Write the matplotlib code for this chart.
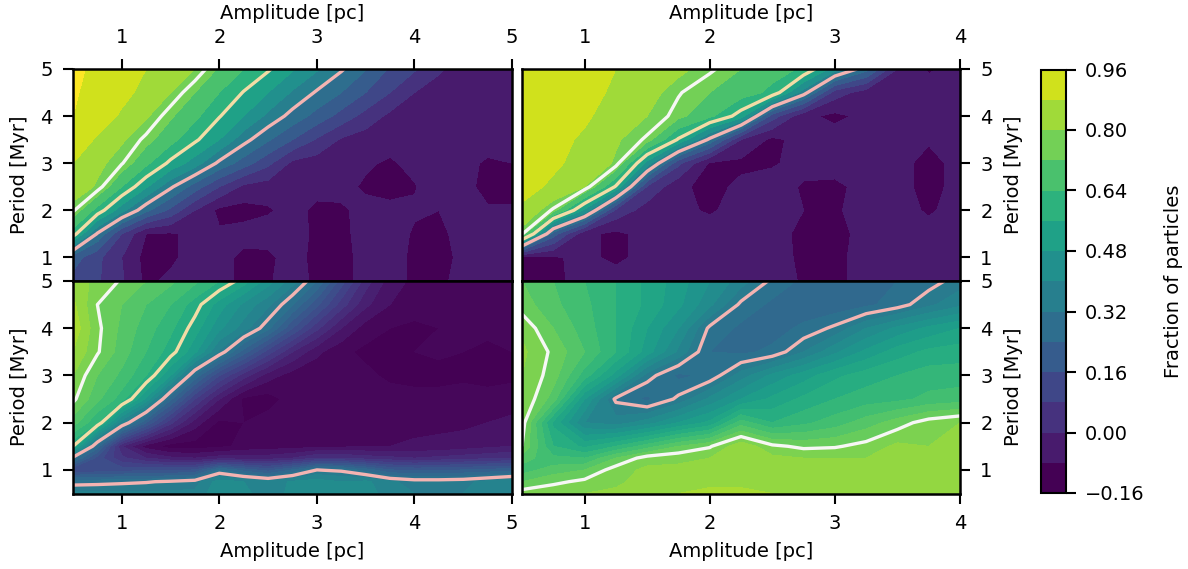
import numpy as np
import matplotlib.pyplot as plt
from matplotlib.ticker import FuncFormatter

# amplitude [pc] and period [Myr] grid nodes
amp_left = [0.5, 0.75, 1.0, 1.25, 1.5, 1.75, 2.0, 2.25, 2.5, 2.75, 3.0,
            3.25, 3.5, 3.75, 4.0, 4.25, 4.5, 4.75, 5.0]
amp_right = [0.5, 0.75, 1.0, 1.25, 1.5, 1.75, 2.0, 2.25, 2.5, 2.75, 3.0,
             3.25, 3.5, 3.75, 4.0]
period_top = [0.5, 1.0, 1.5, 2.0, 2.5, 3.0, 3.5, 4.0, 4.5, 5.0]
period_bot = [0.5, 0.75, 1.0, 1.25, 1.5, 2.0, 2.5, 3.0, 3.5, 4.0, 4.5, 5.0]

# fraction of particles, one row per period (bottom to top)
frac_tl = [
    [0.13, 0.09, 0.01, -0.1, -0.06, -0.04, -0.05, -0.1, -0.09, -0.04, -0.1, -0.11, -0.05, -0.04, -0.1, -0.1, -0.05, -0.04, -0.04],
    [0.2, 0.1, 0.0, -0.11, -0.1, -0.04, -0.05, -0.1, -0.1, -0.04, -0.11, -0.11, -0.05, -0.04, -0.1, -0.11, -0.06, -0.04, -0.04],
    [0.6, 0.31, 0.08, -0.08, -0.09, -0.06, -0.07, -0.05, -0.04, -0.04, -0.1, -0.1, -0.05, -0.04, -0.09, -0.1, -0.05, -0.04, -0.04],
    [0.77, 0.61, 0.43, 0.26, 0.14, 0.0, -0.1, -0.11, -0.09, -0.05, -0.1, -0.09, -0.06, -0.05, -0.07, -0.08, -0.06, -0.07, -0.07],
    [0.85, 0.79, 0.64, 0.49, 0.335, 0.2, 0.08, -0.02, -0.04, -0.04, -0.05, -0.06, -0.09, -0.12, -0.085, -0.04, -0.05, -0.11, -0.11],
    [0.88, 0.82, 0.765, 0.66, 0.54, 0.44, 0.3, 0.2, 0.1, -0.02, -0.04, -0.05, -0.07, -0.09, -0.06, -0.04, -0.06, -0.09, -0.08],
    [0.93, 0.87, 0.81, 0.745, 0.67, 0.575, 0.48, 0.35, 0.25, 0.16, 0.07, -0.01, -0.04, -0.05, -0.04, -0.04, -0.04, -0.05, -0.04],
    [0.96, 0.92, 0.87, 0.81, 0.73, 0.66, 0.565, 0.48, 0.38, 0.29, 0.21, 0.13, 0.05, -0.02, -0.04, -0.04, -0.04, -0.03, -0.03],
    [0.97, 0.93, 0.9, 0.86, 0.8, 0.72, 0.64, 0.555, 0.48, 0.39, 0.31, 0.24, 0.16, 0.08, 0.0, -0.03, -0.04, -0.04, -0.03],
    [0.98, 0.94, 0.91, 0.88, 0.84, 0.8, 0.71, 0.64, 0.57, 0.49, 0.41, 0.33, 0.245, 0.15, 0.09, 0.01, -0.03, -0.04, -0.04],
]

frac_tr = [
    [-0.09, -0.1, -0.05, -0.04, -0.04, -0.04, -0.04, -0.05, -0.04, -0.09, -0.1, -0.05, -0.04, -0.04, -0.04],
    [-0.1, -0.09, -0.06, -0.1, -0.05, -0.04, -0.04, -0.04, -0.04, -0.1, -0.1, -0.05, -0.04, -0.04, -0.04],
    [0.77, 0.2, -0.06, -0.1, -0.05, -0.04, -0.04, -0.04, -0.05, -0.1, -0.11, -0.05, -0.04, -0.05, -0.04],
    [0.87, 0.75, 0.46, 0.06, -0.04, -0.06, -0.09, -0.05, -0.04, -0.08, -0.09, -0.05, -0.05, -0.09, -0.05],
    [0.9, 0.87, 0.8, 0.55, 0.07, -0.06, -0.11, -0.06, -0.04, -0.09, -0.1, -0.05, -0.05, -0.11, -0.05],
    [0.91, 0.89, 0.86, 0.79, 0.45, 0.1, -0.09, -0.1, -0.09, -0.05, -0.04, -0.04, -0.05, -0.11, -0.05],
    [0.92, 0.9, 0.87, 0.81, 0.75, 0.55, 0.3, 0.0, -0.1, -0.05, -0.04, -0.04, -0.04, -0.07, -0.05],
    [0.93, 0.91, 0.89, 0.85, 0.8, 0.74, 0.66, 0.52, 0.12, -0.06, -0.1, -0.06, -0.04, -0.04, -0.04],
    [0.94, 0.92, 0.9, 0.87, 0.83, 0.765, 0.72, 0.68, 0.62, 0.36, 0.04, -0.04, -0.05, -0.04, -0.04],
    [0.95, 0.93, 0.905, 0.88, 0.85, 0.82, 0.77, 0.72, 0.67, 0.63, 0.44, 0.27, 0.0, -0.09, -0.05],
]

frac_bl = [
    [0.37, 0.37, 0.37, 0.37, 0.37, 0.37, 0.43, 0.41, 0.38, 0.41, 0.43, 0.41, 0.42, 0.38, 0.36, 0.36, 0.36, 0.38, 0.4],
    [0.3, 0.304, 0.31, 0.316, 0.327, 0.342, 0.42, 0.4, 0.374, 0.407, 0.42, 0.4, 0.41, 0.367, 0.345, 0.345, 0.35, 0.372, 0.4],
    [0.12, 0.13, 0.14, 0.15, 0.15, 0.16, 0.28, 0.22, 0.18, 0.24, 0.32, 0.31, 0.26, 0.2, 0.19, 0.19, 0.2, 0.21, 0.22],
    [0.3, 0.14, 0.05, 0.0, -0.03, -0.04, -0.02, -0.02, -0.02, 0.0, 0.04, 0.04, 0.02, 0.01, 0.0, 0.01, 0.02, 0.03, 0.04],
    [0.56, 0.26, 0.0, -0.1, -0.14, -0.14, -0.13, -0.11, -0.1, -0.1, -0.09, -0.09, -0.08, -0.08, -0.07, -0.07, -0.06, -0.05, -0.04],
    [0.7, 0.6, 0.37, 0.2, 0.05, -0.06, -0.13, -0.12, -0.1, -0.1, -0.11, -0.12, -0.1, -0.1, -0.1, -0.09, -0.09, -0.08, -0.07],
    [0.77, 0.69, 0.62, 0.47, 0.25, 0.08, -0.04, -0.13, -0.14, -0.1, -0.1, -0.12, -0.1, -0.1, -0.1, -0.1, -0.1, -0.1, -0.1],
    [0.8, 0.72, 0.67, 0.6, 0.48, 0.27, 0.12, 0.02, -0.06, -0.1, -0.11, -0.1, -0.11, -0.13, -0.14, -0.14, -0.13, -0.14, -0.13],
    [0.84, 0.765, 0.7, 0.64, 0.58, 0.49, 0.35, 0.22, 0.1, 0.0, -0.07, -0.11, -0.13, -0.13, -0.12, -0.11, -0.12, -0.13, -0.12],
    [0.87, 0.77, 0.71, 0.66, 0.61, 0.54, 0.45, 0.38, 0.29, 0.16, 0.05, -0.04, -0.1, -0.12, -0.13, -0.12, -0.12, -0.11, -0.1],
    [0.85, 0.76, 0.72, 0.68, 0.64, 0.58, 0.5, 0.43, 0.37, 0.28, 0.17, 0.06, -0.03, -0.08, -0.1, -0.11, -0.1, -0.09, -0.09],
    [0.82, 0.79, 0.755, 0.72, 0.69, 0.65, 0.6, 0.54, 0.46, 0.38, 0.28, 0.14, 0.02, -0.06, -0.09, -0.1, -0.1, -0.09, -0.09],
]

frac_br = [
    [0.78, 0.79, 0.8, 0.81, 0.83, 0.84, 0.85, 0.85, 0.84, 0.82, 0.81, 0.81, 0.81, 0.81, 0.81],
    [0.72, 0.75, 0.77, 0.79, 0.82, 0.83, 0.83, 0.83, 0.83, 0.81, 0.8, 0.81, 0.81, 0.81, 0.81],
    [0.66, 0.7, 0.72, 0.78, 0.81, 0.81, 0.8, 0.81, 0.81, 0.8, 0.8, 0.8, 0.81, 0.81, 0.81],
    [0.7, 0.65, 0.64, 0.72, 0.78, 0.79, 0.8, 0.83, 0.81, 0.8, 0.8, 0.8, 0.81, 0.81, 0.81],
    [0.76, 0.6, 0.55, 0.6, 0.66, 0.72, 0.755, 0.83, 0.77, 0.75, 0.755, 0.775, 0.81, 0.8, 0.8],
    [0.78, 0.55, 0.4, 0.38, 0.42, 0.48, 0.53, 0.66, 0.6, 0.63, 0.66, 0.7, 0.74, 0.78, 0.8],
    [0.8, 0.7, 0.48, 0.31, 0.27, 0.33, 0.41, 0.48, 0.53, 0.57, 0.6, 0.62, 0.63, 0.65, 0.66],
    [0.8, 0.74, 0.62, 0.5, 0.34, 0.27, 0.29, 0.38, 0.45, 0.5, 0.55, 0.58, 0.6, 0.62, 0.62],
    [0.81, 0.75, 0.68, 0.6, 0.5, 0.39, 0.28, 0.27, 0.29, 0.36, 0.43, 0.49, 0.54, 0.57, 0.58],
    [0.79, 0.72, 0.66, 0.6, 0.52, 0.44, 0.31, 0.27, 0.26, 0.29, 0.33, 0.4, 0.45, 0.49, 0.52],
    [0.74, 0.69, 0.65, 0.6, 0.55, 0.49, 0.41, 0.31, 0.27, 0.25, 0.25, 0.27, 0.3, 0.35, 0.39],
    [0.72, 0.68, 0.64, 0.6, 0.55, 0.5, 0.44, 0.38, 0.31, 0.27, 0.26, 0.27, 0.28, 0.3, 0.34],
]

# contour line levels drawn on top of each panel
lines_tl = [0.32, 0.56, 0.76]
lines_tr = [0.32, 0.56, 0.76]
lines_bl = [0.32, 0.56, 0.76]
lines_br = [0.32, 0.76]
line_colors = {0.32: '#f4b4b2', 0.56: '#f3dca6', 0.76: '#f7f7f5'}

cbar_ticks = [-0.16, 0.0, 0.16, 0.32, 0.48, 0.64, 0.80, 0.96]

plt.rcParams['font.family'] = 'DejaVu Sans'
plt.rcParams['font.size'] = 14

top_levels = np.linspace(-0.16, 0.96, 15)
bot_levels = np.linspace(-0.16, 0.96, 29)

fig = plt.figure(figsize=(11.88, 5.69), dpi=100)
W, H = 1188.0, 569.0


def box(x0, y0, x1, y1):
    return [x0 / W, 1 - y1 / H, (x1 - x0) / W, (y1 - y0) / H]


ax_tl = fig.add_axes(box(73, 69, 512, 281))
ax_bl = fig.add_axes(box(73, 281, 512, 493.5))
ax_tr = fig.add_axes(box(522, 69, 960, 281))
ax_br = fig.add_axes(box(522, 281, 960, 493.5))
cax = fig.add_axes(box(1041, 69.5, 1066, 493))

panels = [
    (ax_tl, amp_left, period_top, frac_tl, top_levels, lines_tl, 'max'),
    (ax_tr, amp_right, period_top, frac_tr, top_levels, lines_tr, 'neither'),
    (ax_bl, amp_left, period_bot, frac_bl, bot_levels, lines_bl, 'neither'),
    (ax_br, amp_right, period_bot, frac_br, bot_levels, lines_br, 'neither'),
]

mappable = None
for ax, amp, per, frac, levels, lines, ext in panels:
    z = np.array(frac)
    # colours taken at the lower edge of each band
    cf = ax.contourf(amp, per, z, levels=levels, cmap='viridis',
                     vmin=-0.12, vmax=1.0, extend=ext)
    ax.contour(amp, per, z, levels=lines,
               colors=[line_colors[l] for l in lines], linewidths=2.4)
    if ax is ax_tr:
        mappable = cf
    ax.set_xlim(amp[0], amp[-1])
    ax.set_ylim(0.5, 5)
    ax.set_yticks([1, 2, 3, 4, 5])
    ax.set_xticks([t for t in [1, 2, 3, 4, 5] if t <= amp[-1]])
    ax.tick_params(direction='out', length=7.5, width=1.5, pad=7)
    for s in ax.spines.values():
        s.set_linewidth(1.8)

for ax in (ax_tl, ax_tr):
    ax.xaxis.tick_top()
    ax.xaxis.set_label_position('top')
    ax.tick_params(axis='x', pad=8)
    ax.set_xlabel('Amplitude [pc]', labelpad=7)
for ax in (ax_bl, ax_br):
    ax.set_xlabel('Amplitude [pc]', labelpad=7)
for ax in (ax_tl, ax_bl):
    ax.set_ylabel('Period [Myr]', labelpad=8)
for ax in (ax_tr, ax_br):
    ax.yaxis.tick_right()
    ax.yaxis.set_label_position('right')
    ax.set_ylabel('Period [Myr]', labelpad=8)

cb = fig.colorbar(mappable, cax=cax, ticks=cbar_ticks)
cb.ax.yaxis.set_major_formatter(FuncFormatter(lambda v, p: ('%.2f' % v).replace('-', '\u2212')))
cb.set_label('Fraction of particles', labelpad=14)
cb.ax.tick_params(length=7.5, width=1.5, pad=6)
cb.outline.set_linewidth(1.5)

fig.savefig('out.png', dpi=100)
